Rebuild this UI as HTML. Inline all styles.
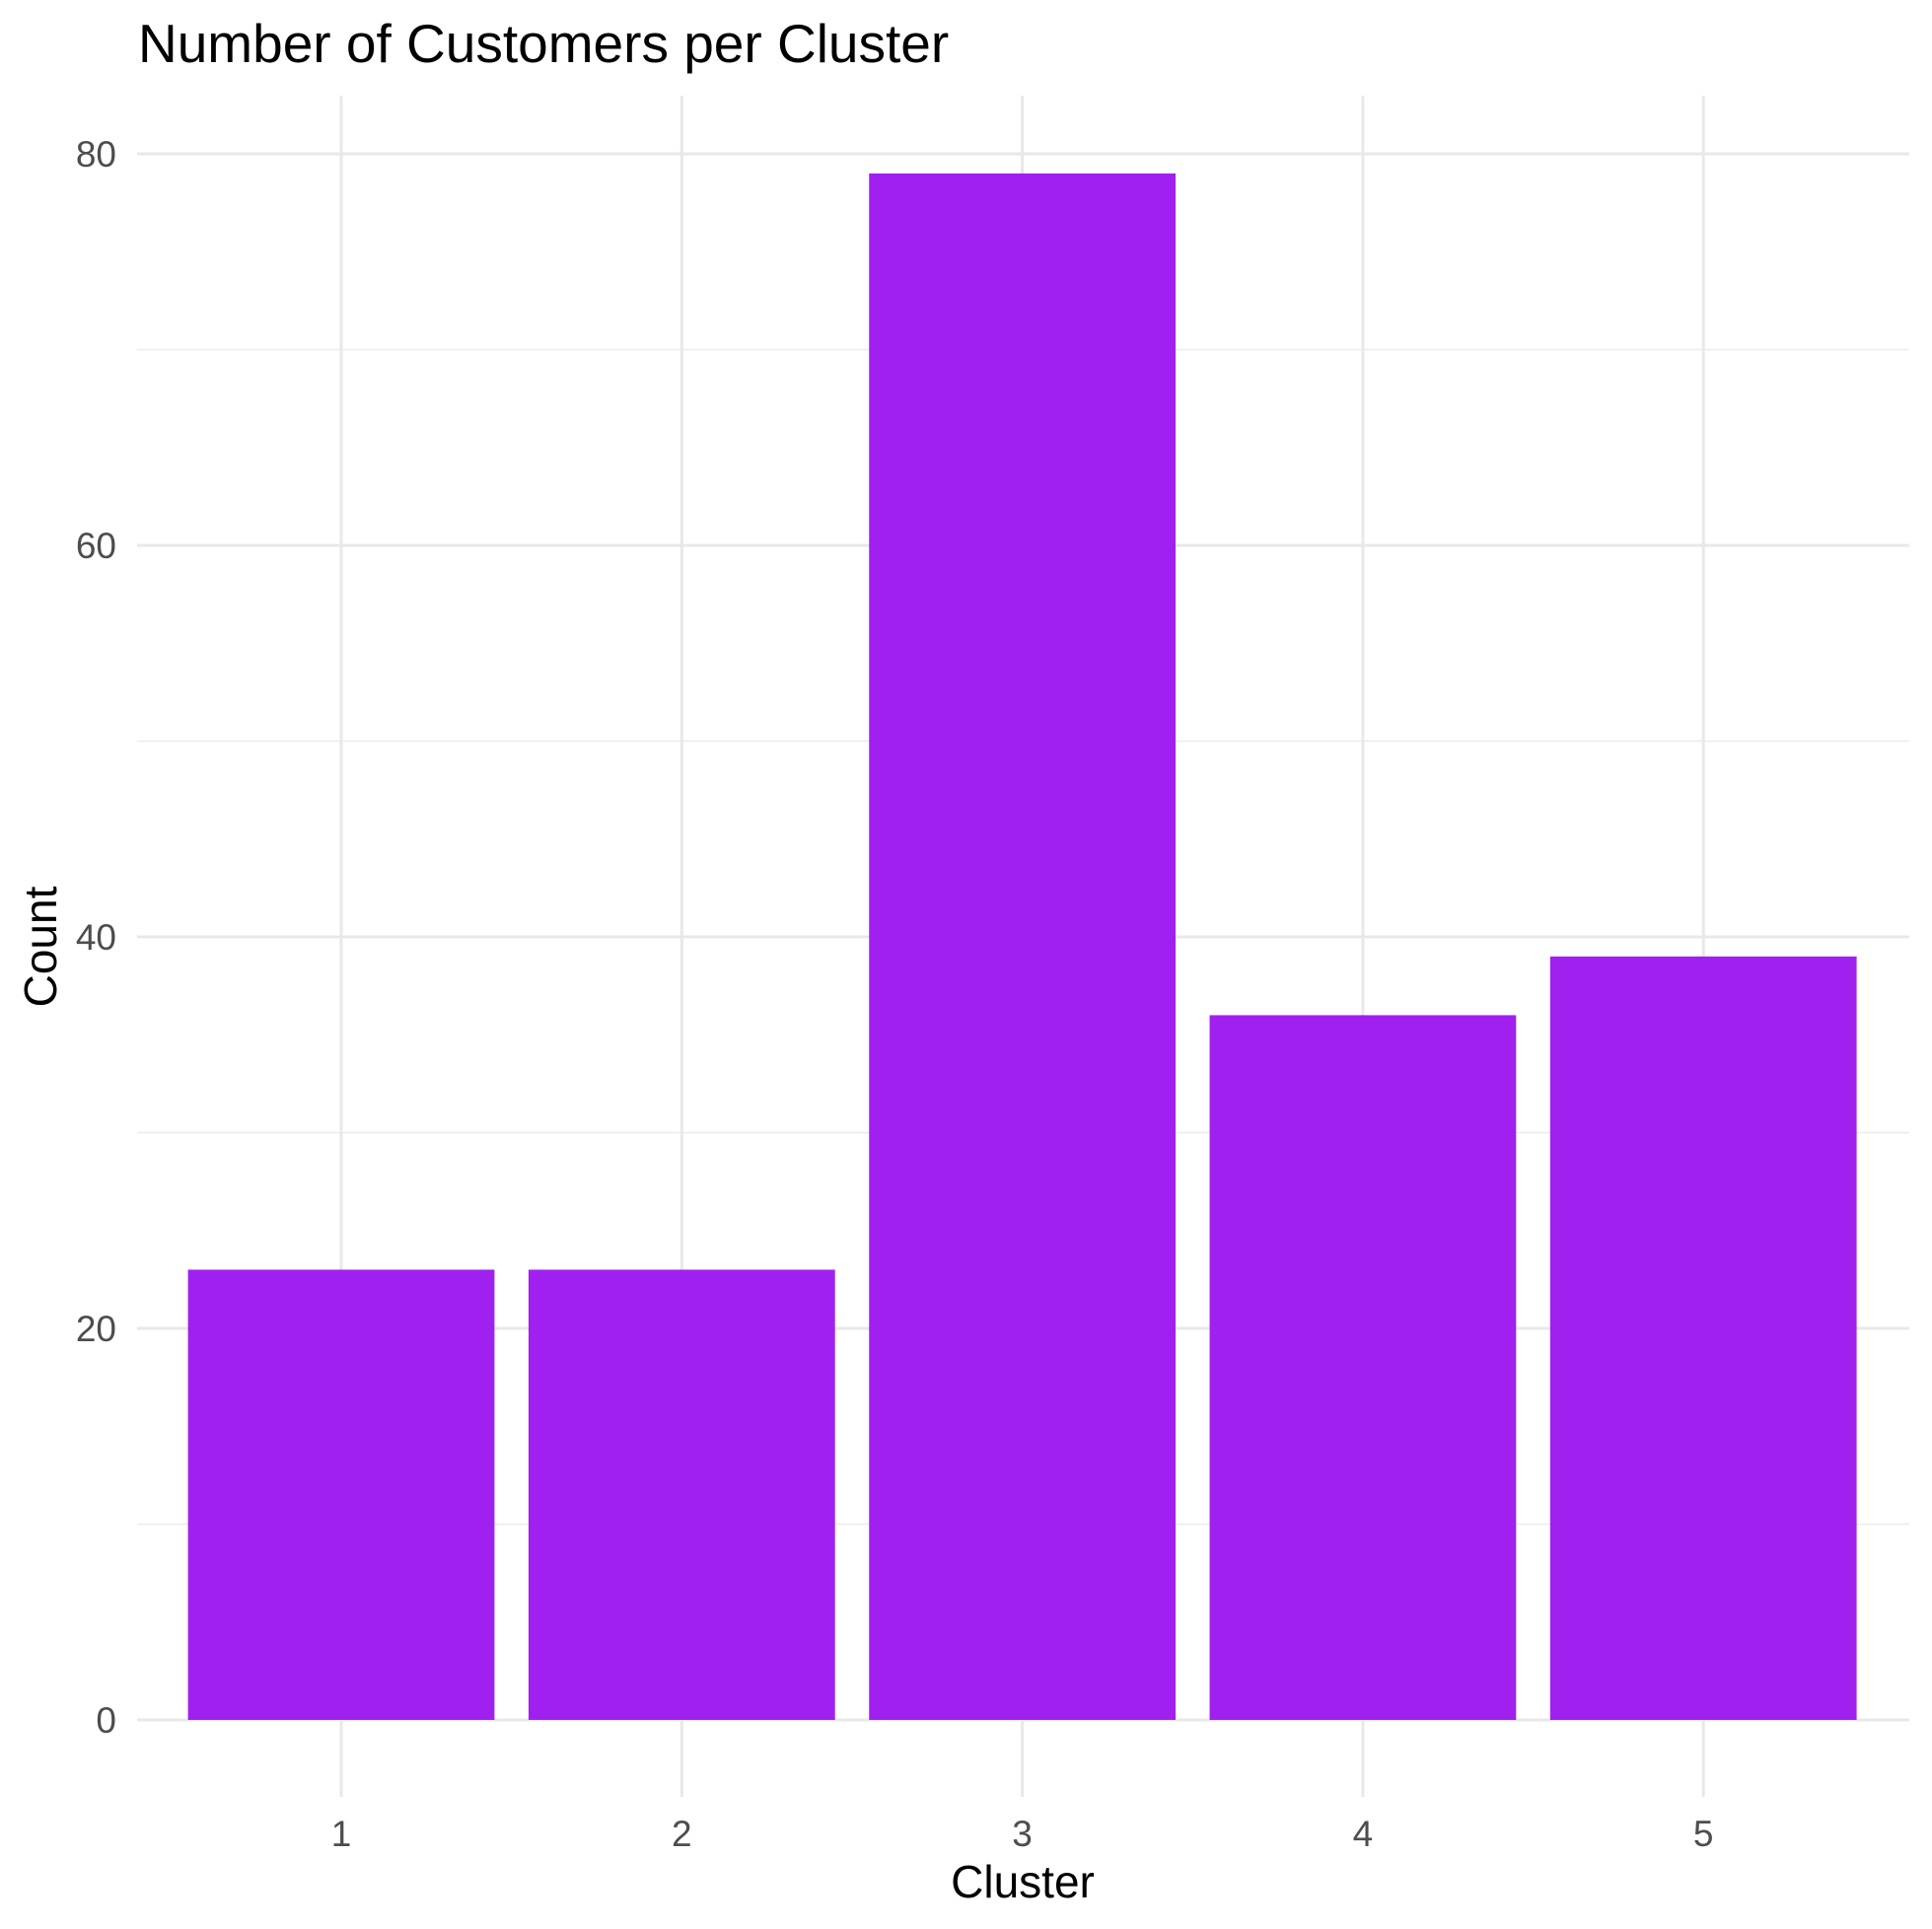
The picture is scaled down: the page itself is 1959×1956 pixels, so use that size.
<!DOCTYPE html>
<html><head><meta charset="utf-8"><style>
html,body{margin:0;padding:0;background:#fff;}
svg{display:block;font-family:"Liberation Sans",Arial,sans-serif;}
</style></head><body>
<svg id="chart" width="1959" height="1956" viewBox="0 0 1959 1956" xmlns="http://www.w3.org/2000/svg">
<rect width="1959" height="1956" fill="#fff"/>
<g id="grid"></g>
<g id="bars"></g>
<g id="labels"></g>
<text x="140" y="63" font-size="55" fill="#000">Number of Customers per Cluster</text>
<text x="1037" y="1924" font-size="46" fill="#000" text-anchor="middle">Cluster</text>
<text transform="translate(57,960) rotate(-90)" font-size="46" fill="#000" text-anchor="middle">Count</text>
</svg>
<script>
const categories = ["1","2","3","4","5"];
const counts = [23, 23, 79, 36, 39];
const yTicks = [0, 20, 40, 60, 80];
const yMinor = [10, 30, 50, 70];

const NS = "http://www.w3.org/2000/svg";
const panelL = 139, panelR = 1936, panelT = 97, panelB = 1822;
const y0px = 1744, pxPerUnit = (1744 - 156) / 80;
const xFirst = 346, step = 345.3;
function yScale(v){ return y0px - v * pxPerUnit; }
function xScale(i){ return xFirst + i * step; }
function mk(tag, attrs){ const e = document.createElementNS(NS, tag); for (const k in attrs) e.setAttribute(k, attrs[k]); return e; }

const grid = document.getElementById('grid');
const bars = document.getElementById('bars');
const labels = document.getElementById('labels');

yMinor.forEach(v => {
  const l = mk('line', {x1: panelL, x2: panelR, y1: yScale(v), y2: yScale(v), stroke: '#ebebeb', 'stroke-width': 1.5});
  
  
  grid.appendChild(l);
});
yTicks.forEach(v => {
  const l = mk('line', {x1: panelL, x2: panelR, y1: yScale(v), y2: yScale(v), stroke: '#e8e8e8', 'stroke-width': 3});
  
  
  grid.appendChild(l);
  const t = mk('text', {x: 118, y: yScale(v) + 13, 'font-size': 37, fill: '#4d4d4d', 'text-anchor': 'end'});
  t.textContent = String(v);
  
  
  labels.appendChild(t);
});
categories.forEach((c, i) => {
  const x = xScale(i);
  const l = mk('line', {x1: x, x2: x, y1: panelT, y2: panelB, stroke: '#e8e8e8', 'stroke-width': 3});
  
  
  grid.appendChild(l);
  const bw = step * 0.9;
  const r = mk('rect', {x: x - bw / 2, y: yScale(counts[i]), width: bw, height: yScale(0) - yScale(counts[i]), fill: '#A020F0'});
  
  
  bars.appendChild(r);
  const t = mk('text', {x: x, y: 1872, 'font-size': 37, fill: '#4d4d4d', 'text-anchor': 'middle'});
  t.textContent = c;
  
  
  labels.appendChild(t);
});
</script>
</body></html>
